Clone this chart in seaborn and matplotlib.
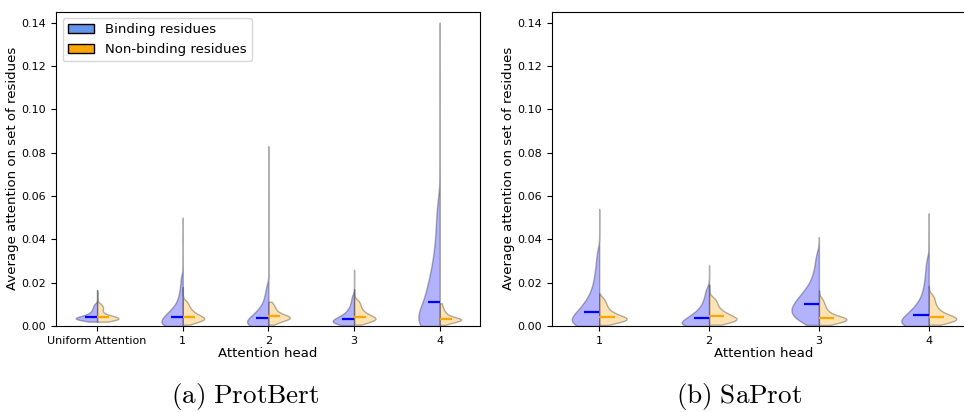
import matplotlib
matplotlib.use("Agg")
import matplotlib.pyplot as plt
from matplotlib.patches import Patch
import numpy as np
import pandas as pd
import seaborn as sns

# ---------------- data ----------------
# Each "body" list holds equally-weighted quantiles of the per-protein values
# (every listed quantile stands for REP residue sets); "out" lists are single
# outlying values forming the thin tails.
PB_HEADS = ["Uniform Attention", "1", "2", "3", "4"]
SP_HEADS = ["1", "2", "3", "4"]
CLASSES = ["Binding residues", "Non-binding residues"]
REP = 20

# ProtBert - binding residues
pb_bind_u = [0.0020, 0.0025, 0.0027, 0.0029, 0.0030, 0.0031, 0.0032, 0.0033, 0.0034, 0.0035,
             0.0036, 0.0038, 0.0040, 0.0042, 0.0043, 0.0044, 0.0046, 0.0049, 0.0052, 0.0055,
             0.0059, 0.0064, 0.0070, 0.0076, 0.0083, 0.0091, 0.0100]
pb_bind_u_out = [0.0115, 0.0140, 0.0165]
pb_bind_1 = [0.0000, 0.0000, 0.0001, 0.0002, 0.0004, 0.0006, 0.0009, 0.0012, 0.0016, 0.0020,
             0.0024, 0.0029, 0.0034, 0.0038, 0.0042, 0.0046, 0.0050, 0.0055, 0.0060, 0.0066,
             0.0073, 0.0081, 0.0090, 0.0101, 0.0115, 0.0133, 0.0155, 0.0183, 0.0220]
pb_bind_1_out = [0.0300, 0.0400, 0.0500]
pb_bind_2 = [0.0000, 0.0000, 0.0001, 0.0002, 0.0003, 0.0005, 0.0007, 0.0010, 0.0013, 0.0017,
             0.0021, 0.0026, 0.0031, 0.0035, 0.0039, 0.0043, 0.0048, 0.0053, 0.0059, 0.0066,
             0.0074, 0.0083, 0.0094, 0.0108, 0.0126, 0.0148, 0.0178]
pb_bind_2_out = [0.0260, 0.0380, 0.0550, 0.0830]
pb_bind_3 = [0.0004, 0.0007, 0.0010, 0.0012, 0.0014, 0.0016, 0.0018, 0.0020, 0.0022, 0.0025,
             0.0027, 0.0030, 0.0033, 0.0036, 0.0039, 0.0043, 0.0047, 0.0052, 0.0058, 0.0065,
             0.0073, 0.0083, 0.0096, 0.0113, 0.0135]
pb_bind_3_out = [0.0170, 0.0210, 0.0260]
pb_bind_4 = [0.0000, 0.0000, 0.0001, 0.0002, 0.0004, 0.0007, 0.0011, 0.0016, 0.0023, 0.0031,
             0.0041, 0.0053, 0.0066, 0.0080, 0.0095, 0.0110, 0.0123, 0.0137, 0.0152, 0.0168,
             0.0185, 0.0204, 0.0225, 0.0248, 0.0274, 0.0304, 0.0340, 0.0383, 0.0433, 0.0492,
             0.0560]
pb_bind_4_out = [0.0720, 0.0880, 0.1100, 0.1400]

# ProtBert - non-binding residues
pb_non_u = [0.0020, 0.0023, 0.0025, 0.0027, 0.0029, 0.0030, 0.0031, 0.0032, 0.0033, 0.0034,
            0.0035, 0.0037, 0.0038, 0.0040, 0.0042, 0.0043, 0.0044, 0.0046, 0.0049, 0.0052,
            0.0056, 0.0061, 0.0067, 0.0074, 0.0080, 0.0085, 0.0090, 0.0096, 0.0103]
pb_non_u_out = [0.0120, 0.0145, 0.0165]
pb_non_1 = [0.0006, 0.0012, 0.0017, 0.0021, 0.0024, 0.0026, 0.0028, 0.0030, 0.0032, 0.0034,
            0.0036, 0.0038, 0.0040, 0.0043, 0.0046, 0.0049, 0.0052, 0.0055, 0.0059, 0.0063,
            0.0068, 0.0074, 0.0080, 0.0087, 0.0095, 0.0104, 0.0114]
pb_non_1_out = [0.0130, 0.0155, 0.0180]
pb_non_2 = [0.0006, 0.0012, 0.0017, 0.0021, 0.0024, 0.0027, 0.0029, 0.0031, 0.0033, 0.0035,
            0.0036, 0.0038, 0.0039, 0.0041, 0.0043, 0.0045, 0.0047, 0.0049, 0.0051, 0.0054,
            0.0057, 0.0061, 0.0065, 0.0070, 0.0075, 0.0081, 0.0087, 0.0094, 0.0102, 0.0112]
pb_non_2_out = []
pb_non_3 = [0.0006, 0.0012, 0.0017, 0.0021, 0.0024, 0.0026, 0.0028, 0.0030, 0.0032, 0.0034,
            0.0036, 0.0038, 0.0040, 0.0043, 0.0046, 0.0049, 0.0052, 0.0056, 0.0060, 0.0065,
            0.0071, 0.0077, 0.0084, 0.0092, 0.0100, 0.0109, 0.0118]
pb_non_3_out = [0.0135, 0.0150, 0.0170]
pb_non_4 = [0.0005, 0.0010, 0.0014, 0.0017, 0.0019, 0.0021, 0.0023, 0.0025, 0.0026, 0.0027,
            0.0028, 0.0029, 0.0030, 0.0031, 0.0032, 0.0034, 0.0035, 0.0037, 0.0039, 0.0041,
            0.0044, 0.0047, 0.0051, 0.0055, 0.0060, 0.0066, 0.0073, 0.0081, 0.0091, 0.0105]
pb_non_4_out = []

# SaProt - binding residues
sp_bind_1 = [0.0000, 0.0001, 0.0002, 0.0004, 0.0007, 0.0010, 0.0014, 0.0018, 0.0022, 0.0027,
             0.0032, 0.0037, 0.0043, 0.0049, 0.0056, 0.0063, 0.0069, 0.0076, 0.0083, 0.0091,
             0.0100, 0.0110, 0.0121, 0.0134, 0.0149, 0.0167, 0.0188, 0.0213, 0.0243, 0.0280,
             0.0330]
sp_bind_1_out = [0.0440, 0.0540]
sp_bind_2 = [0.0000, 0.0000, 0.0001, 0.0002, 0.0004, 0.0006, 0.0009, 0.0012, 0.0015, 0.0019,
             0.0023, 0.0027, 0.0031, 0.0035, 0.0039, 0.0043, 0.0048, 0.0053, 0.0059, 0.0066,
             0.0074, 0.0083, 0.0094, 0.0107, 0.0123, 0.0143, 0.0168]
sp_bind_2_out = [0.0210, 0.0280]
sp_bind_3 = [0.0005, 0.0013, 0.0022, 0.0031, 0.0037, 0.0043, 0.0049, 0.0055, 0.0061, 0.0066,
             0.0072, 0.0077, 0.0083, 0.0089, 0.0095, 0.0101, 0.0108, 0.0115, 0.0122, 0.0130,
             0.0138, 0.0147, 0.0157, 0.0168, 0.0181, 0.0197, 0.0217, 0.0242, 0.0275, 0.0320]
sp_bind_3_out = [0.0410]
sp_bind_4 = [0.0000, 0.0000, 0.0001, 0.0002, 0.0004, 0.0006, 0.0009, 0.0012, 0.0016, 0.0020,
             0.0025, 0.0031, 0.0037, 0.0043, 0.0050, 0.0055, 0.0061, 0.0068, 0.0076, 0.0085,
             0.0095, 0.0107, 0.0121, 0.0138, 0.0159, 0.0184, 0.0214, 0.0250, 0.0295]
sp_bind_4_out = [0.0400, 0.0520]

# SaProt - non-binding residues
sp_non_1 = [0.0005, 0.0011, 0.0016, 0.0020, 0.0023, 0.0025, 0.0027, 0.0029, 0.0031, 0.0033,
            0.0035, 0.0037, 0.0039, 0.0042, 0.0045, 0.0048, 0.0052, 0.0056, 0.0060, 0.0065,
            0.0071, 0.0078, 0.0086, 0.0095, 0.0104, 0.0115, 0.0128]
sp_non_1_out = [0.0140, 0.0150]
sp_non_2 = [0.0006, 0.0011, 0.0015, 0.0019, 0.0022, 0.0025, 0.0027, 0.0029, 0.0031, 0.0033,
            0.0036, 0.0038, 0.0041, 0.0045, 0.0048, 0.0051, 0.0055, 0.0059, 0.0064, 0.0069,
            0.0075, 0.0082, 0.0090, 0.0099, 0.0108, 0.0118, 0.0130]
sp_non_2_out = [0.0150, 0.0170, 0.0190]
sp_non_3 = [0.0005, 0.0009, 0.0013, 0.0016, 0.0019, 0.0022, 0.0024, 0.0026, 0.0028, 0.0030,
            0.0032, 0.0034, 0.0035, 0.0037, 0.0039, 0.0042, 0.0045, 0.0049, 0.0053, 0.0058,
            0.0064, 0.0071, 0.0079, 0.0088, 0.0098, 0.0110, 0.0125]
sp_non_3_out = [0.0145, 0.0165]
sp_non_4 = [0.0006, 0.0011, 0.0015, 0.0019, 0.0022, 0.0025, 0.0027, 0.0029, 0.0031, 0.0033,
            0.0035, 0.0037, 0.0040, 0.0043, 0.0046, 0.0049, 0.0053, 0.0057, 0.0062, 0.0068,
            0.0075, 0.0083, 0.0092, 0.0102, 0.0114, 0.0127, 0.0141]
sp_non_4_out = [0.0160, 0.0185]

PB_BIND = [(pb_bind_u, pb_bind_u_out), (pb_bind_1, pb_bind_1_out), (pb_bind_2, pb_bind_2_out),
           (pb_bind_3, pb_bind_3_out), (pb_bind_4, pb_bind_4_out)]
PB_NON = [(pb_non_u, pb_non_u_out), (pb_non_1, pb_non_1_out), (pb_non_2, pb_non_2_out),
          (pb_non_3, pb_non_3_out), (pb_non_4, pb_non_4_out)]
SP_BIND = [(sp_bind_1, sp_bind_1_out), (sp_bind_2, sp_bind_2_out),
           (sp_bind_3, sp_bind_3_out), (sp_bind_4, sp_bind_4_out)]
SP_NON = [(sp_non_1, sp_non_1_out), (sp_non_2, sp_non_2_out),
          (sp_non_3, sp_non_3_out), (sp_non_4, sp_non_4_out)]

CAPTIONS = [r"$\mathrm{(a)\ ProtBert}$", r"$\mathrm{(b)\ SaProt}$"]
Y_LABEL = "Average attention on set of residues"
X_LABEL = "Attention head"


def expand(group):
    body, out = group
    return list(np.repeat(body, REP)) + list(out)


def long_frame(heads, bind, non):
    rows = []
    for h, b, n in zip(heads, bind, non):
        rows += [(h, CLASSES[0], v) for v in expand(b)]
        rows += [(h, CLASSES[1], v) for v in expand(n)]
    return pd.DataFrame(rows, columns=["head", "type", "value"])


plt.rcParams["mathtext.fontset"] = "cm"
fig = plt.figure(figsize=(9.64, 4.12), dpi=100)
ax1 = fig.add_axes([56 / 964, 86 / 412, 424 / 964, 314.5 / 412])
ax2 = fig.add_axes([552 / 964, 86 / 412, 424 / 964, 314.5 / 412])

palette = {CLASSES[0]: "blue", CLASSES[1]: "orange"}

panels = [(ax1, PB_HEADS, PB_BIND, PB_NON, (-0.48, 4.47)),
          (ax2, SP_HEADS, SP_BIND, SP_NON, (-0.43, 3.43))]

for ax, heads, bind, non, xl in panels:
    df = long_frame(heads, bind, non)
    sns.violinplot(data=df, x="head", y="value", hue="type", order=heads,
                   hue_order=CLASSES, split=True, inner=None, cut=0,
                   density_norm="width", width=0.5, palette=palette,
                   saturation=1, linecolor="black", linewidth=1.0,
                   alpha=0.3, bw_adjust=1.3, legend=False, ax=ax)
    med = df.groupby(["head", "type"])["value"].median()
    for i, h in enumerate(heads):
        ax.hlines(med[(h, CLASSES[0])], i - 0.14, i, colors="blue", linewidth=1.6, zorder=5)
        ax.hlines(med[(h, CLASSES[1])], i, i + 0.14, colors="orange", linewidth=1.6, zorder=5)
    ax.set_xlim(*xl)
    ax.set_ylim(0, 0.1451)
    ax.set_yticks(np.arange(0, 0.141, 0.02))
    ax.tick_params(labelsize=8)
    ax.set_xlabel(X_LABEL, fontsize=9.5, labelpad=1)
    ax.set_ylabel(Y_LABEL, fontsize=9.5, labelpad=2)

handles = [Patch(facecolor="cornflowerblue", edgecolor="black", label=CLASSES[0]),
           Patch(facecolor="orange", edgecolor="black", label=CLASSES[1])]
ax1.legend(handles=handles, loc="upper left", fontsize=9.5)

fig.text(245 / 964, 1 - 397 / 412, CAPTIONS[0], ha="center", va="center", fontsize=19.5)
fig.text(739 / 964, 1 - 397 / 412, CAPTIONS[1], ha="center", va="center", fontsize=19.5)

fig.savefig("out.png", dpi=100)
